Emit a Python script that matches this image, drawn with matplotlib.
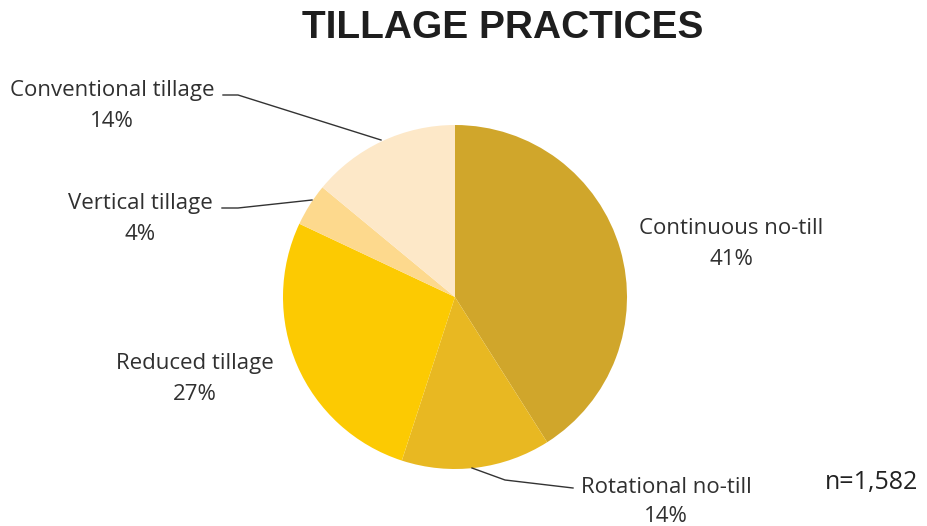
import matplotlib.pyplot as plt

W, H = 928, 526

labels = ["Continuous no-till", "Rotational no-till", "Reduced tillage",
          "Vertical tillage", "Conventional tillage"]
shares = [41, 14, 27, 4, 14]
colors = ["#D0A62B", "#E8B822", "#FCCA02", "#FDD98D", "#FDE8C8"]
sample_note = "n=1,582"

fig = plt.figure(figsize=(W / 100, H / 100), dpi=100)
ax = fig.add_axes([0, 0, 1, 1])

# pie in pixel space, y measured from bottom
cx, cy, r = 455, H - 297, 172
ax.pie(shares, colors=colors, startangle=90, counterclock=False,
       center=(cx, cy), radius=r, frame=True,
       wedgeprops=dict(linewidth=0))
ax.set_xlim(0, W)
ax.set_ylim(0, H)
ax.set_aspect("equal")
ax.axis("off")

# label anchor positions (pixels from top-left), gap to the % line
label_pos = [(731, 228, 31), (666, 488, 28), (195, 363, 31), (140, 203, 31), (112, 90, 31)]
font = dict(family="Open Sans", fontsize=16, color="#303030", ha="center", va="center")
for name, val, (x, y, gap) in zip(labels, shares, label_pos):
    ax.text(x, H - y, name, **font)
    ax.text(x, H - y - gap, f"{val}%", **font)

# leader lines
leaders = [
    [(223, 95), (238, 95), (381, 140)],
    [(222, 208), (238, 208), (312, 200)],
    [(472, 468), (505, 480), (573, 488)],
]
for pts in leaders:
    xs = [p[0] for p in pts]
    ys = [H - p[1] for p in pts]
    ax.plot(xs, ys, color="#333333", linewidth=1)

ax.text(872, H - 483, sample_note, family="Open Sans", fontsize=18,
        color="#222222", ha="center", va="center")

fig.text(503 / W, 1 - 28 / H, "TILLAGE PRACTICES", family="Liberation Sans",
         fontweight="bold", fontsize=28, color="#1e1e1e",
         ha="center", va="center")

fig.savefig("out.png", dpi=100, facecolor="white")
